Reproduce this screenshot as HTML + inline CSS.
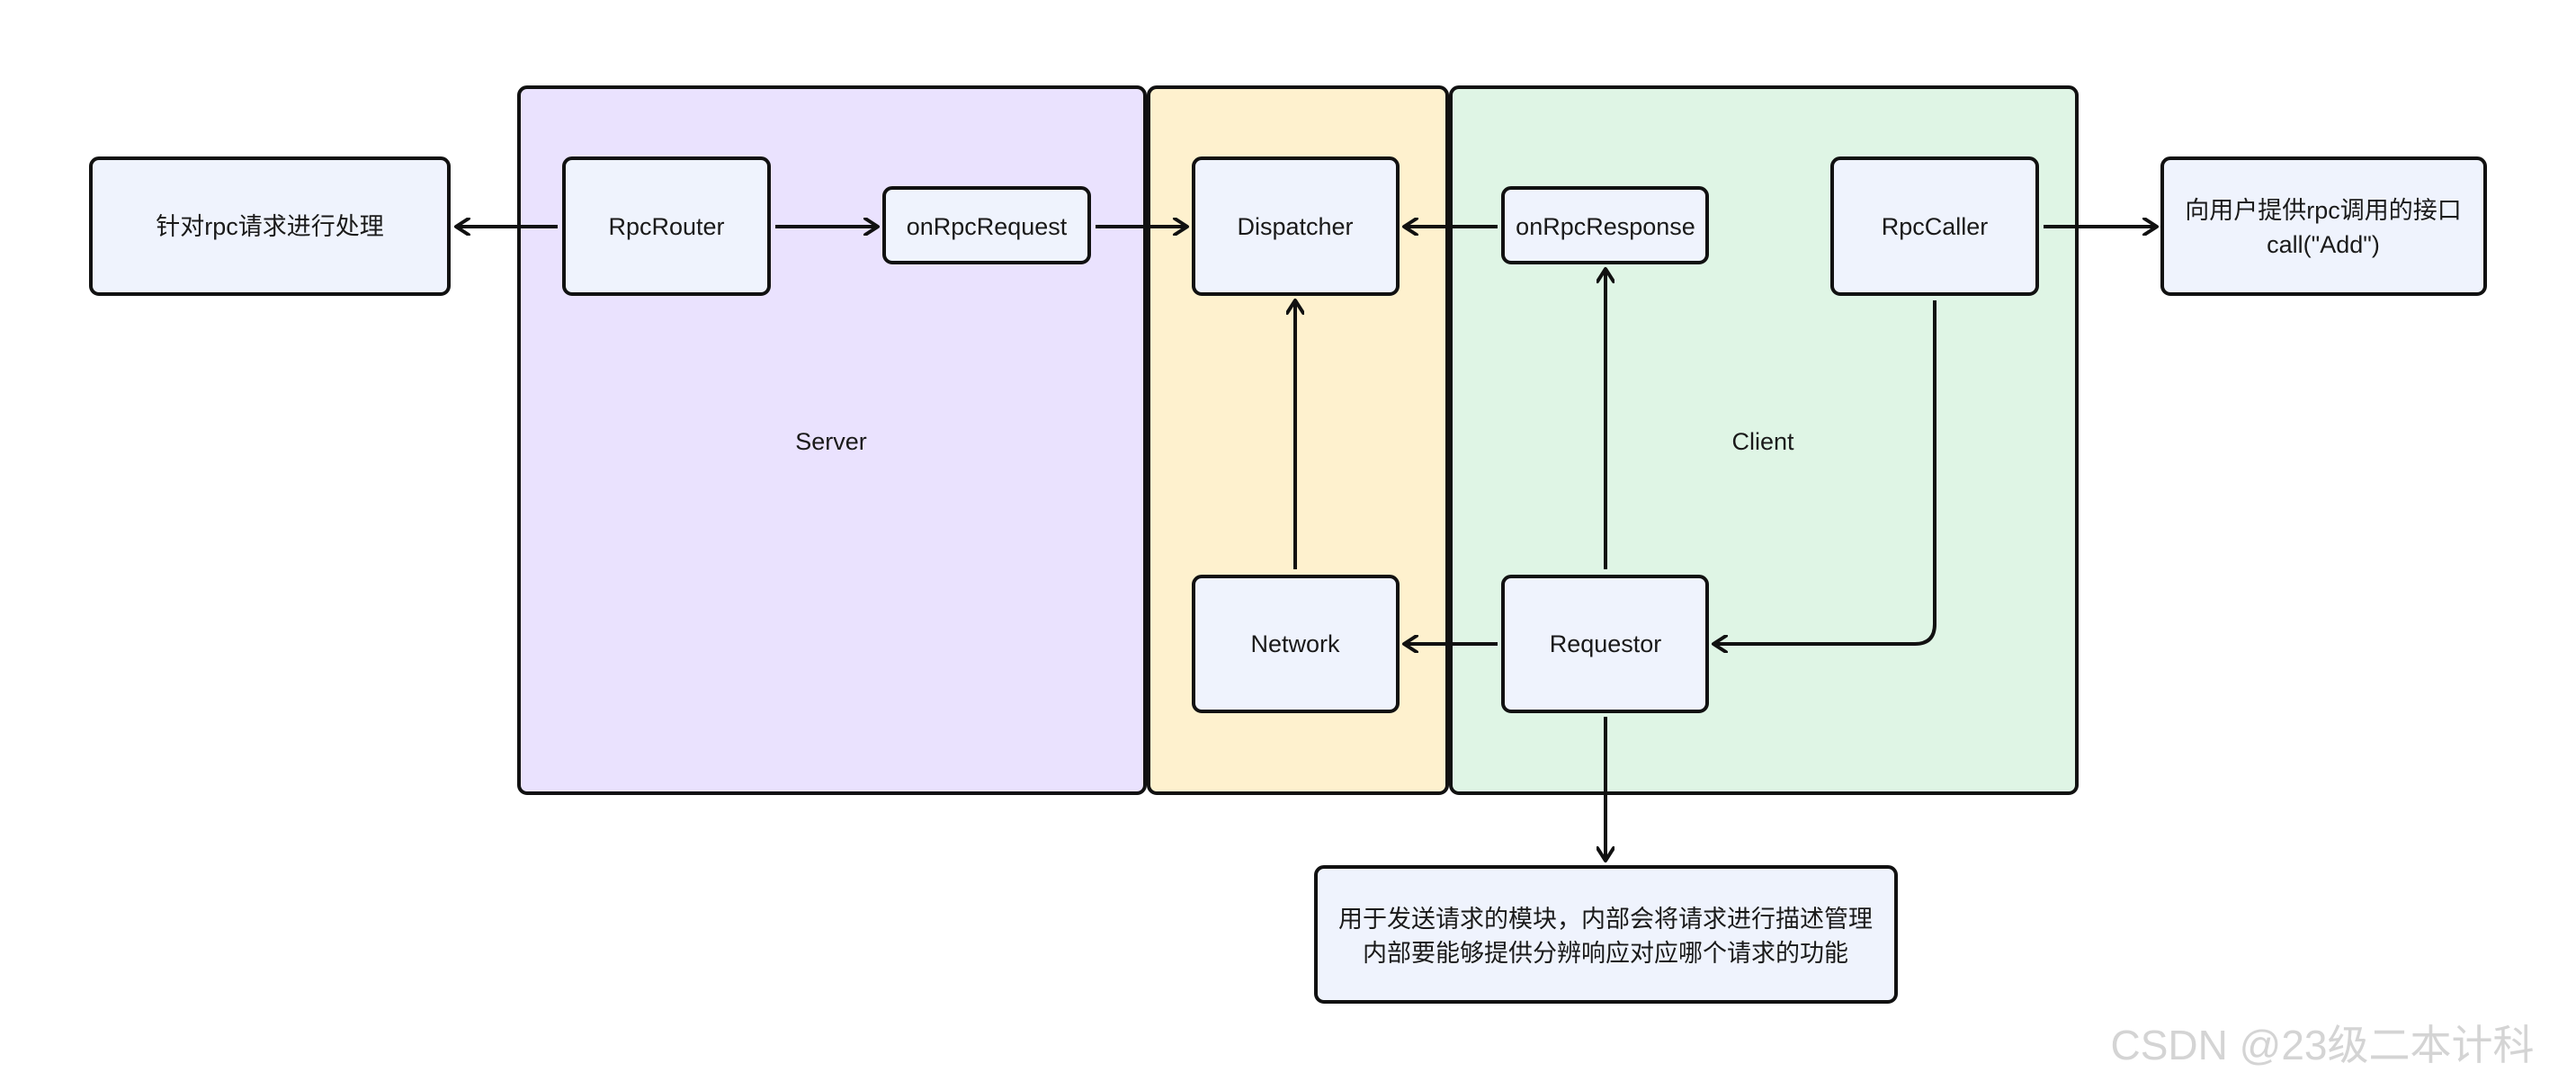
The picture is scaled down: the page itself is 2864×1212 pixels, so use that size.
<!DOCTYPE html>
<html><head><meta charset="utf-8"><style>
html,body{margin:0;padding:0;background:#fff;}
svg{display:block;}
text{font-family:"Liberation Sans","Noto Sans CJK SC",sans-serif;font-size:27px;fill:#1a1a1a;}
</style></head><body>
<svg width="2864" height="1212" viewBox="0 0 2864 1212" xmlns="http://www.w3.org/2000/svg">
<defs>
<marker id="a" viewBox="0 0 20 20" refX="17" refY="10" markerWidth="20" markerHeight="20" markerUnits="userSpaceOnUse" orient="auto">
<path d="M3,1 L17,10 L3,19" fill="none" stroke="#111" stroke-width="4" stroke-linecap="round" stroke-linejoin="round"/>
</marker>
</defs>
<g stroke="#111" stroke-width="4">
<rect x="577" y="97" width="696" height="785" rx="9" fill="#EAE2FE"/>
<rect x="1277" y="97" width="332" height="785" rx="9" fill="#FEF1CE"/>
<rect x="1613" y="97" width="696" height="785" rx="9" fill="#DFF5E5"/>
<g fill="#EFF3FD">
<rect x="101" y="176" width="398" height="151" rx="9"/>
<rect x="627" y="176" width="228" height="151" rx="9"/>
<rect x="983" y="209" width="228" height="83" rx="9"/>
<rect x="1327" y="176" width="227" height="151" rx="9"/>
<rect x="1671" y="209" width="227" height="83" rx="9"/>
<rect x="2037" y="176" width="228" height="151" rx="9"/>
<rect x="2404" y="176" width="359" height="151" rx="9"/>
<rect x="1327" y="641" width="227" height="150" rx="9"/>
<rect x="1671" y="641" width="227" height="150" rx="9"/>
<rect x="1463" y="964" width="645" height="150" rx="9"/>
</g>
</g>
<g stroke="#111" stroke-width="4" fill="none" marker-end="url(#a)">
<line x1="620" y1="252" x2="507" y2="252"/>
<line x1="862" y1="252" x2="976" y2="252"/>
<line x1="1218" y1="252" x2="1320" y2="252"/>
<line x1="1665" y1="252" x2="1561" y2="252"/>
<line x1="1440" y1="633" x2="1440" y2="334"/>
<line x1="1785" y1="633" x2="1785" y2="299"/>
<path d="M2151,334 L2151,694 Q2151,716 2129,716 L1905,716"/>
<line x1="1665" y1="716" x2="1561" y2="716"/>
<line x1="2272" y1="252" x2="2398" y2="252"/>
<line x1="1785" y1="797" x2="1785" y2="957"/>
</g>
<g text-anchor="middle" dominant-baseline="central">
<text x="300" y="252">针对rpc请求进行处理</text>
<text x="741" y="252">RpcRouter</text>
<text x="1097" y="252">onRpcRequest</text>
<text x="1440" y="252">Dispatcher</text>
<text x="1785" y="252">onRpcResponse</text>
<text x="2151" y="252">RpcCaller</text>
<text x="2583" y="234">向用户提供rpc调用的接口</text>
<text x="2583" y="272">call("Add")</text>
<text x="924" y="491">Server</text>
<text x="1960" y="491">Client</text>
<text x="1440" y="716">Network</text>
<text x="1785" y="716">Requestor</text>
<text x="1785" y="1022">用于发送请求的模块，内部会将请求进行描述管理</text>
<text x="1785" y="1060">内部要能够提供分辨响应对应哪个请求的功能</text>
<text x="2582" y="1162" style="font-size:46px;fill:#d4d4d4">CSDN @23级二本计科</text>
</g>
</svg>
</body></html>
